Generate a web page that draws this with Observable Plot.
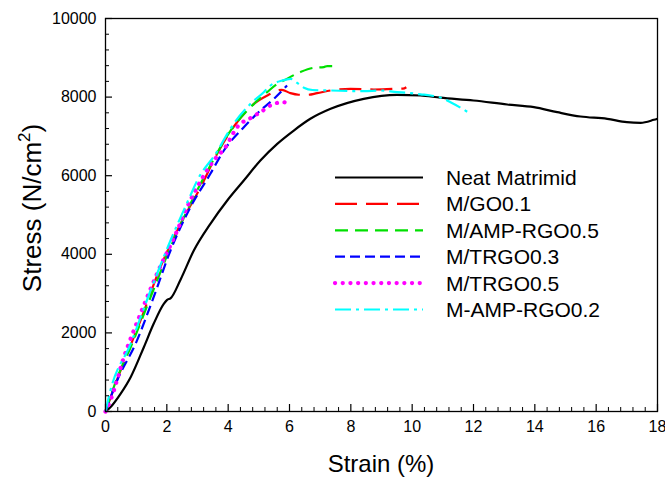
<!DOCTYPE html>
<html>
<head>
<meta charset="utf-8">
<script src="https://cdn.jsdelivr.net/npm/d3@7"></script>
<script src="https://cdn.jsdelivr.net/npm/@observablehq/plot@0.6"></script>
<style>
  html, body { margin: 0; padding: 0; background: #fff; }
  #wrap { position: relative; width: 665px; height: 477px; font-family: "Liberation Sans", Arial, sans-serif; }
  #overlay { position: absolute; left: 0; top: 0; pointer-events: none; }
</style>
</head>
<body>
<div id="wrap"></div>
<script>
// ---- Data ----
const seriesNames = ["Neat Matrimid", "M/GO0.1", "M/AMP-RGO0.5", "M/TRGO0.3", "M/TRGO0.5", "M-AMP-RGO0.2"];
const seriesColors = ["#000000", "#ff0000", "#00e000", "#0000ff", "#ff00ff", "#00ffff"];
const seriesDash = [null, "22,9", "13,7", "10,5", "0.1,7.6", "16,5,3,5"];

const neatStrain = [0, 0.16, 0.49, 0.82, 1.25, 1.57, 1.90, 2.01, 2.12, 2.45, 2.88, 3.42, 3.97, 4.51, 5.05, 5.60, 6.14, 6.68, 7.34, 8.42, 9.51, 10.27, 10.92, 12.0, 13.1, 13.97, 14.73, 15.49, 16.36, 17.0, 17.45, 17.88, 18.0];
const neatStress = [0, 109, 450, 873, 1636, 2231, 2740, 2842, 2880, 3360, 4097, 4776, 5369, 5878, 6387, 6811, 7150, 7448, 7702, 7956, 8058, 8041, 7985, 7913, 7812, 7743, 7616, 7506, 7448, 7362, 7346, 7422, 7450];

const goStrain = [0, 0.49, 1.14, 1.79, 2.45, 3.10, 3.64, 4.29, 4.84, 5.38, 5.60, 5.75, 6.03, 6.30, 6.58, 6.90, 7.34, 7.99, 8.75, 9.46, 9.70, 9.81];
const goStress = [0, 1043, 2315, 3672, 4776, 5708, 6557, 7361, 7829, 8084, 8168, 8186, 8100, 8060, 8058, 8100, 8168, 8211, 8193, 8211, 8215, 8252];

const ampStrain = [0, 0.38, 0.82, 1.47, 2.12, 2.77, 3.42, 4.08, 4.73, 5.27, 5.60, 5.81, 6.36, 6.79, 7.12, 7.23, 7.55, 7.61];
const ampStress = [0, 850, 1636, 2908, 4181, 5284, 6259, 7150, 7743, 8125, 8338, 8422, 8640, 8745, 8762, 8790, 8790, 8779];

const trgo3Strain = [0, 0.38, 0.98, 1.57, 2.12, 2.77, 3.42, 3.86, 4.51, 5.05, 5.49, 5.92];
const trgo3Stress = [0, 789, 1722, 2908, 4097, 5199, 6048, 6641, 7234, 7659, 7956, 8295];

const trgo5Strain = [0, 0.16, 0.60, 1.14, 1.68, 2.34, 2.66, 2.99, 3.53, 3.91, 4.29, 4.78, 5.05, 5.49, 5.81, 6.03];
const trgo5Stress = [0, 280, 1382, 2486, 3504, 4606, 5199, 5708, 6387, 6725, 7234, 7489, 7616, 7829, 7870, 7761];

const amp2Strain = [0, 0.16, 0.82, 1.47, 2.12, 2.77, 2.99, 3.59, 4.18, 4.73, 5.16, 5.38, 5.76, 6.03, 6.25, 6.47, 6.75, 7.34, 8.42, 8.97, 9.51, 9.84, 10.27, 10.60, 10.92, 11.25, 11.60, 11.90];
const amp2Stress = [0, 534, 1722, 3079, 4351, 5500, 5878, 6556, 7320, 7829, 8125, 8295, 8422, 8465, 8360, 8240, 8180, 8168, 8150, 8168, 8125, 8110, 8070, 8041, 7990, 7870, 7720, 7575];

const xMajorTicks = [0, 2, 4, 6, 8, 10, 12, 14, 16, 18];
const yMajorTicks = [0, 2000, 4000, 6000, 8000, 10000];
const xLabel = "Strain (%)";
const yLabelMain = "Stress (N/cm";
const yLabelSup = "2";
const yLabelEnd = ")";

// ---- Build tables ----
const strainArrays = [neatStrain, goStrain, ampStrain, trgo3Strain, trgo5Strain, amp2Strain];
const stressArrays = [neatStress, goStress, ampStress, trgo3Stress, trgo5Stress, amp2Stress];
const series = seriesNames.map((name, i) => ({
  name, color: seriesColors[i], dash: seriesDash[i],
  data: strainArrays[i].map((x, j) => ({x, y: stressArrays[i][j]}))
}));
const xMinorTicks = d3.range(0, 18.001, 0.4).filter(v => Math.abs(v / 2 - Math.round(v / 2)) > 1e-6);
const yMinorTicks = d3.range(0, 10001, 400).filter(v => v % 2000 !== 0);

const W = 665, H = 477, mL = 105, mR = 8, mT = 18, mB = 66;
const frameW = W - mL - mR, frameH = H - mT - mB;

const lineMarks = series.map(s => Plot.line(s.data, {
  x: "x", y: "y", stroke: s.color, strokeWidth: s.name === "M/TRGO0.5" ? 4.2 : 2.2,
  strokeDasharray: s.dash, strokeLinecap: s.name === "M/TRGO0.5" ? "round" : "butt",
  curve: "monotone-x"
}));

const chart = Plot.plot({
  width: W, height: H,
  marginLeft: mL, marginRight: mR, marginTop: mT, marginBottom: mB,
  style: {fontFamily: '"Liberation Sans", Arial, sans-serif', fontSize: "16px", color: "#000", background: "#fff"},
  x: {domain: [0, 18]},
  y: {domain: [0, 10000]},
  marks: [
    ...lineMarks,
    Plot.frame({stroke: "#000", strokeWidth: 1.3}),
    Plot.tickX(xMajorTicks, {x: d => d, insetTop: frameH - 7, stroke: "#000", strokeWidth: 1.2}),
    Plot.tickX(xMinorTicks, {x: d => d, insetTop: frameH - 4, stroke: "#000", strokeWidth: 1}),
    Plot.tickY(yMajorTicks, {y: d => d, insetRight: frameW - 7, stroke: "#000", strokeWidth: 1.2}),
    Plot.tickY(yMinorTicks, {y: d => d, insetRight: frameW - 4, stroke: "#000", strokeWidth: 1}),
    Plot.axisX({ticks: xMajorTicks, tickSize: 0, tickPadding: 9, label: null, fontSize: 16, tickFormat: d => String(d)}),
    Plot.axisY({ticks: yMajorTicks, tickSize: 0, tickPadding: 9, label: null, fontSize: 16, tickFormat: d => String(d)})
  ]
});
const wrap = document.getElementById("wrap");
wrap.appendChild(chart);

// ---- Overlay: titles and legend ----
const ns = "http://www.w3.org/2000/svg";
const ov = d3.select(wrap).append("svg").attr("id", "overlay")
  .attr("width", W).attr("height", H).attr("xmlns", ns)
  .style("font-family", '"Liberation Sans", Arial, sans-serif');

ov.append("text").attr("x", 381).attr("y", 472).attr("text-anchor", "middle")
  .attr("font-size", 24).attr("fill", "#000").text(xLabel);

const yt = ov.append("text").attr("transform", "translate(41,208) rotate(-90)")
  .attr("text-anchor", "middle").attr("font-size", 26).attr("fill", "#000");
yt.append("tspan").text(yLabelMain);
yt.append("tspan").attr("font-size", 17).attr("dy", -11).text(yLabelSup);
yt.append("tspan").attr("dy", 11).text(yLabelEnd);

const lg = ov.append("g");
series.forEach((s, i) => {
  const yy = 177.5 + i * 26.4;
  lg.append("line").attr("x1", 335).attr("x2", 423).attr("y1", yy).attr("y2", yy)
    .attr("stroke", s.color).attr("stroke-width", s.name === "M/TRGO0.5" ? 4.2 : 2.2)
    .attr("stroke-dasharray", s.dash).attr("stroke-linecap", s.name === "M/TRGO0.5" ? "round" : "butt");
  lg.append("text").attr("x", 446).attr("y", yy + 7.5).attr("font-size", 21).attr("fill", "#000").text(s.name);
});
</script>
</body>
</html>
